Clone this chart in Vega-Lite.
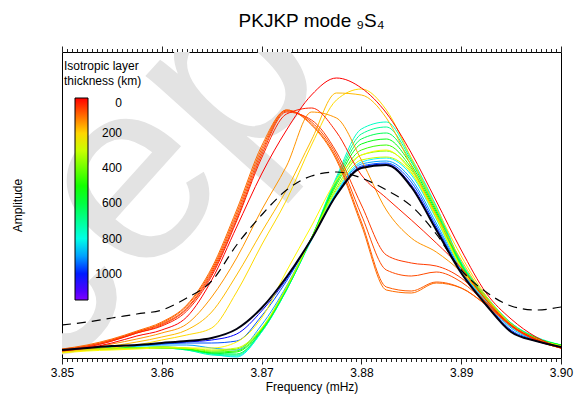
{
  "$schema": "https://vega.github.io/schema/vega-lite/v6.json",
  "autosize": {"type": "none"},
  "width": 499,
  "height": 306,
  "padding": {"left": 62, "top": 52, "right": 19, "bottom": 40},
  "background": "white",
  "title": {"text": "PKJKP mode ₉S₄", "fontSize": 19, "fontWeight": "normal", "font": "Liberation Sans", "color": "black", "anchor": "middle", "frame": "group", "baseline": "alphabetic", "offset": 18, "dy": 18},
  "datasets": {
    "models": [
      {"t":1020,"f":3.85,"a":8},{"t":1020,"f":3.8525,"a":10},{"t":1020,"f":3.855,"a":12},{"t":1020,"f":3.8575,"a":13},{"t":1020,"f":3.86,"a":14},{"t":1020,"f":3.8625,"a":16},{"t":1020,"f":3.865,"a":18},{"t":1020,"f":3.8675,"a":24},{"t":1020,"f":3.87,"a":47},{"t":1020,"f":3.8725,"a":79},{"t":1020,"f":3.875,"a":119},{"t":1020,"f":3.8775,"a":163},{"t":1020,"f":3.88,"a":191},{"t":1020,"f":3.8825,"a":194},{"t":1020,"f":3.885,"a":173},{"t":1020,"f":3.8875,"a":130},{"t":1020,"f":3.89,"a":86},{"t":1020,"f":3.8925,"a":54},{"t":1020,"f":3.895,"a":27},{"t":1020,"f":3.8975,"a":17},{"t":1020,"f":3.9,"a":11},
      {"t":960,"f":3.85,"a":8},{"t":960,"f":3.8525,"a":10},{"t":960,"f":3.855,"a":11},{"t":960,"f":3.8575,"a":12},{"t":960,"f":3.86,"a":14},{"t":960,"f":3.8625,"a":15},{"t":960,"f":3.865,"a":15},{"t":960,"f":3.8675,"a":17},{"t":960,"f":3.87,"a":42},{"t":960,"f":3.8725,"a":77},{"t":960,"f":3.875,"a":120},{"t":960,"f":3.8775,"a":164},{"t":960,"f":3.88,"a":192},{"t":960,"f":3.8825,"a":195},{"t":960,"f":3.885,"a":176},{"t":960,"f":3.8875,"a":132},{"t":960,"f":3.89,"a":87},{"t":960,"f":3.8925,"a":55},{"t":960,"f":3.895,"a":28},{"t":960,"f":3.8975,"a":18},{"t":960,"f":3.9,"a":11},
      {"t":900,"f":3.85,"a":7},{"t":900,"f":3.8525,"a":9},{"t":900,"f":3.855,"a":11},{"t":900,"f":3.8575,"a":12},{"t":900,"f":3.86,"a":13},{"t":900,"f":3.8625,"a":13},{"t":900,"f":3.865,"a":10},{"t":900,"f":3.8675,"a":8},{"t":900,"f":3.87,"a":33},{"t":900,"f":3.8725,"a":72},{"t":900,"f":3.875,"a":120},{"t":900,"f":3.8775,"a":165},{"t":900,"f":3.88,"a":194},{"t":900,"f":3.8825,"a":197},{"t":900,"f":3.885,"a":179},{"t":900,"f":3.8875,"a":135},{"t":900,"f":3.89,"a":88},{"t":900,"f":3.8925,"a":56},{"t":900,"f":3.895,"a":30},{"t":900,"f":3.8975,"a":18},{"t":900,"f":3.9,"a":12},
      {"t":840,"f":3.85,"a":7},{"t":840,"f":3.8525,"a":9},{"t":840,"f":3.855,"a":10},{"t":840,"f":3.8575,"a":11},{"t":840,"f":3.86,"a":11},{"t":840,"f":3.8625,"a":9},{"t":840,"f":3.865,"a":4},{"t":840,"f":3.8675,"a":1},{"t":840,"f":3.87,"a":26},{"t":840,"f":3.8725,"a":68},{"t":840,"f":3.875,"a":118},{"t":840,"f":3.8775,"a":166},{"t":840,"f":3.88,"a":196},{"t":840,"f":3.8825,"a":200},{"t":840,"f":3.885,"a":183},{"t":840,"f":3.8875,"a":139},{"t":840,"f":3.89,"a":89},{"t":840,"f":3.8925,"a":57},{"t":840,"f":3.895,"a":31},{"t":840,"f":3.8975,"a":19},{"t":840,"f":3.9,"a":12},
      {"t":760,"f":3.85,"a":8},{"t":760,"f":3.8525,"a":9},{"t":760,"f":3.855,"a":10},{"t":760,"f":3.8575,"a":10},{"t":760,"f":3.86,"a":10},{"t":760,"f":3.8625,"a":8},{"t":760,"f":3.865,"a":3},{"t":760,"f":3.8675,"a":2},{"t":760,"f":3.87,"a":26},{"t":760,"f":3.8725,"a":68},{"t":760,"f":3.875,"a":120},{"t":760,"f":3.8775,"a":181},{"t":760,"f":3.88,"a":229},{"t":760,"f":3.8825,"a":236},{"t":760,"f":3.885,"a":200},{"t":760,"f":3.8875,"a":152},{"t":760,"f":3.89,"a":96},{"t":760,"f":3.8925,"a":62},{"t":760,"f":3.895,"a":35},{"t":760,"f":3.8975,"a":21},{"t":760,"f":3.9,"a":13},
      {"t":700,"f":3.85,"a":8},{"t":700,"f":3.8525,"a":9},{"t":700,"f":3.855,"a":10},{"t":700,"f":3.8575,"a":10},{"t":700,"f":3.86,"a":10},{"t":700,"f":3.8625,"a":8},{"t":700,"f":3.865,"a":4},{"t":700,"f":3.8675,"a":3},{"t":700,"f":3.87,"a":27},{"t":700,"f":3.8725,"a":68},{"t":700,"f":3.875,"a":120},{"t":700,"f":3.8775,"a":179},{"t":700,"f":3.88,"a":224},{"t":700,"f":3.8825,"a":231},{"t":700,"f":3.885,"a":198},{"t":700,"f":3.8875,"a":150},{"t":700,"f":3.89,"a":95},{"t":700,"f":3.8925,"a":61},{"t":700,"f":3.895,"a":35},{"t":700,"f":3.8975,"a":20},{"t":700,"f":3.9,"a":13},
      {"t":620,"f":3.85,"a":7},{"t":620,"f":3.8525,"a":9},{"t":620,"f":3.855,"a":10},{"t":620,"f":3.8575,"a":10},{"t":620,"f":3.86,"a":10},{"t":620,"f":3.8625,"a":9},{"t":620,"f":3.865,"a":5},{"t":620,"f":3.8675,"a":4},{"t":620,"f":3.87,"a":27},{"t":620,"f":3.8725,"a":69},{"t":620,"f":3.875,"a":120},{"t":620,"f":3.8775,"a":177},{"t":620,"f":3.88,"a":219},{"t":620,"f":3.8825,"a":225},{"t":620,"f":3.885,"a":196},{"t":620,"f":3.8875,"a":148},{"t":620,"f":3.89,"a":94},{"t":620,"f":3.8925,"a":61},{"t":620,"f":3.895,"a":34},{"t":620,"f":3.8975,"a":20},{"t":620,"f":3.9,"a":13},
      {"t":540,"f":3.85,"a":7},{"t":540,"f":3.8525,"a":9},{"t":540,"f":3.855,"a":10},{"t":540,"f":3.8575,"a":10},{"t":540,"f":3.86,"a":10},{"t":540,"f":3.8625,"a":9},{"t":540,"f":3.865,"a":5},{"t":540,"f":3.8675,"a":6},{"t":540,"f":3.87,"a":28},{"t":540,"f":3.8725,"a":69},{"t":540,"f":3.875,"a":120},{"t":540,"f":3.8775,"a":175},{"t":540,"f":3.88,"a":214},{"t":540,"f":3.8825,"a":219},{"t":540,"f":3.885,"a":193},{"t":540,"f":3.8875,"a":146},{"t":540,"f":3.89,"a":93},{"t":540,"f":3.8925,"a":60},{"t":540,"f":3.895,"a":34},{"t":540,"f":3.8975,"a":20},{"t":540,"f":3.9,"a":13},
      {"t":460,"f":3.85,"a":7},{"t":460,"f":3.8525,"a":8},{"t":460,"f":3.855,"a":9},{"t":460,"f":3.8575,"a":10},{"t":460,"f":3.86,"a":11},{"t":460,"f":3.8625,"a":9},{"t":460,"f":3.865,"a":6},{"t":460,"f":3.8675,"a":7},{"t":460,"f":3.87,"a":29},{"t":460,"f":3.8725,"a":70},{"t":460,"f":3.875,"a":120},{"t":460,"f":3.8775,"a":173},{"t":460,"f":3.88,"a":208},{"t":460,"f":3.8825,"a":213},{"t":460,"f":3.885,"a":190},{"t":460,"f":3.8875,"a":144},{"t":460,"f":3.89,"a":92},{"t":460,"f":3.8925,"a":60},{"t":460,"f":3.895,"a":33},{"t":460,"f":3.8975,"a":20},{"t":460,"f":3.9,"a":12},
      {"t":380,"f":3.85,"a":6},{"t":380,"f":3.8525,"a":8},{"t":380,"f":3.855,"a":9},{"t":380,"f":3.8575,"a":10},{"t":380,"f":3.86,"a":11},{"t":380,"f":3.8625,"a":10},{"t":380,"f":3.865,"a":7},{"t":380,"f":3.8675,"a":9},{"t":380,"f":3.87,"a":29},{"t":380,"f":3.8725,"a":70},{"t":380,"f":3.875,"a":120},{"t":380,"f":3.8775,"a":170},{"t":380,"f":3.88,"a":203},{"t":380,"f":3.8825,"a":207},{"t":380,"f":3.885,"a":188},{"t":380,"f":3.8875,"a":142},{"t":380,"f":3.89,"a":91},{"t":380,"f":3.8925,"a":59},{"t":380,"f":3.895,"a":33},{"t":380,"f":3.8975,"a":19},{"t":380,"f":3.9,"a":12},
      {"t":300,"f":3.85,"a":6},{"t":300,"f":3.8525,"a":8},{"t":300,"f":3.855,"a":9},{"t":300,"f":3.8575,"a":10},{"t":300,"f":3.86,"a":11},{"t":300,"f":3.8625,"a":10},{"t":300,"f":3.865,"a":8},{"t":300,"f":3.8675,"a":10},{"t":300,"f":3.87,"a":30},{"t":300,"f":3.8725,"a":71},{"t":300,"f":3.875,"a":120},{"t":300,"f":3.8775,"a":168},{"t":300,"f":3.88,"a":198},{"t":300,"f":3.8825,"a":201},{"t":300,"f":3.885,"a":185},{"t":300,"f":3.8875,"a":140},{"t":300,"f":3.89,"a":90},{"t":300,"f":3.8925,"a":58},{"t":300,"f":3.895,"a":32},{"t":300,"f":3.8975,"a":19},{"t":300,"f":3.9,"a":12},
      {"t":235,"f":3.85,"a":5},{"t":235,"f":3.8525,"a":7},{"t":235,"f":3.855,"a":8},{"t":235,"f":3.8575,"a":9},{"t":235,"f":3.86,"a":10},{"t":235,"f":3.8625,"a":10},{"t":235,"f":3.865,"a":10},{"t":235,"f":3.8675,"a":16},{"t":235,"f":3.87,"a":40},{"t":235,"f":3.8725,"a":87},{"t":235,"f":3.875,"a":132},{"t":235,"f":3.8775,"a":178},{"t":235,"f":3.88,"a":203},{"t":235,"f":3.8825,"a":208},{"t":235,"f":3.885,"a":186},{"t":235,"f":3.8875,"a":141},{"t":235,"f":3.89,"a":90},{"t":235,"f":3.8925,"a":58},{"t":235,"f":3.895,"a":32},{"t":235,"f":3.8975,"a":19},{"t":235,"f":3.9,"a":12},
      {"t":205,"f":3.85,"a":6},{"t":205,"f":3.8525,"a":8},{"t":205,"f":3.855,"a":10},{"t":205,"f":3.8575,"a":13},{"t":205,"f":3.86,"a":18},{"t":205,"f":3.8625,"a":23},{"t":205,"f":3.865,"a":30},{"t":205,"f":3.8675,"a":66},{"t":205,"f":3.87,"a":113},{"t":205,"f":3.8725,"a":158},{"t":205,"f":3.875,"a":213},{"t":205,"f":3.8775,"a":258},{"t":205,"f":3.88,"a":269},{"t":205,"f":3.8825,"a":248},{"t":205,"f":3.885,"a":200},{"t":205,"f":3.8875,"a":150},{"t":205,"f":3.89,"a":102},{"t":205,"f":3.8925,"a":62},{"t":205,"f":3.895,"a":34},{"t":205,"f":3.8975,"a":19},{"t":205,"f":3.9,"a":11},
      {"t":175,"f":3.85,"a":7},{"t":175,"f":3.8525,"a":9},{"t":175,"f":3.855,"a":12},{"t":175,"f":3.8575,"a":16},{"t":175,"f":3.86,"a":21},{"t":175,"f":3.8625,"a":28},{"t":175,"f":3.865,"a":46},{"t":175,"f":3.8675,"a":83},{"t":175,"f":3.87,"a":126},{"t":175,"f":3.8725,"a":168},{"t":175,"f":3.875,"a":218},{"t":175,"f":3.8775,"a":265},{"t":175,"f":3.88,"a":263},{"t":175,"f":3.8825,"a":240},{"t":175,"f":3.885,"a":192},{"t":175,"f":3.8875,"a":143},{"t":175,"f":3.89,"a":98},{"t":175,"f":3.8925,"a":60},{"t":175,"f":3.895,"a":34},{"t":175,"f":3.8975,"a":19},{"t":175,"f":3.9,"a":11},
      {"t":140,"f":3.85,"a":7},{"t":140,"f":3.8525,"a":10},{"t":140,"f":3.855,"a":14},{"t":140,"f":3.8575,"a":19},{"t":140,"f":3.86,"a":25},{"t":140,"f":3.8625,"a":34},{"t":140,"f":3.865,"a":61},{"t":140,"f":3.8675,"a":100},{"t":140,"f":3.87,"a":148},{"t":140,"f":3.8725,"a":192},{"t":140,"f":3.875,"a":246},{"t":140,"f":3.8775,"a":240},{"t":140,"f":3.88,"a":198},{"t":140,"f":3.8825,"a":148},{"t":140,"f":3.885,"a":120},{"t":140,"f":3.8875,"a":106},{"t":140,"f":3.89,"a":86},{"t":140,"f":3.8925,"a":58},{"t":140,"f":3.895,"a":32},{"t":140,"f":3.8975,"a":18},{"t":140,"f":3.9,"a":10},
      {"t":100,"f":3.85,"a":9},{"t":100,"f":3.8525,"a":13},{"t":100,"f":3.855,"a":19},{"t":100,"f":3.8575,"a":27},{"t":100,"f":3.86,"a":36},{"t":100,"f":3.8625,"a":53},{"t":100,"f":3.865,"a":90},{"t":100,"f":3.8675,"a":148},{"t":100,"f":3.87,"a":212},{"t":100,"f":3.8725,"a":248},{"t":100,"f":3.875,"a":233},{"t":100,"f":3.8775,"a":198},{"t":100,"f":3.88,"a":133},{"t":100,"f":3.8825,"a":68},{"t":100,"f":3.885,"a":65},{"t":100,"f":3.8875,"a":75},{"t":100,"f":3.89,"a":70},{"t":100,"f":3.8925,"a":53},{"t":100,"f":3.895,"a":32},{"t":100,"f":3.8975,"a":18},{"t":100,"f":3.9,"a":10},
      {"t":85,"f":3.85,"a":9},{"t":85,"f":3.8525,"a":12},{"t":85,"f":3.855,"a":18},{"t":85,"f":3.8575,"a":26},{"t":85,"f":3.86,"a":35},{"t":85,"f":3.8625,"a":52},{"t":85,"f":3.865,"a":88},{"t":85,"f":3.8675,"a":145},{"t":85,"f":3.87,"a":209},{"t":85,"f":3.8725,"a":248},{"t":85,"f":3.875,"a":234},{"t":85,"f":3.8775,"a":200},{"t":85,"f":3.88,"a":136},{"t":85,"f":3.8825,"a":71},{"t":85,"f":3.885,"a":67},{"t":85,"f":3.8875,"a":76},{"t":85,"f":3.89,"a":70},{"t":85,"f":3.8925,"a":53},{"t":85,"f":3.895,"a":32},{"t":85,"f":3.8975,"a":18},{"t":85,"f":3.9,"a":10},
      {"t":70,"f":3.85,"a":8},{"t":70,"f":3.8525,"a":12},{"t":70,"f":3.855,"a":18},{"t":70,"f":3.8575,"a":26},{"t":70,"f":3.86,"a":34},{"t":70,"f":3.8625,"a":50},{"t":70,"f":3.865,"a":86},{"t":70,"f":3.8675,"a":142},{"t":70,"f":3.87,"a":206},{"t":70,"f":3.8725,"a":247},{"t":70,"f":3.875,"a":236},{"t":70,"f":3.8775,"a":203},{"t":70,"f":3.88,"a":143},{"t":70,"f":3.8825,"a":88},{"t":70,"f":3.885,"a":82},{"t":70,"f":3.8875,"a":86},{"t":70,"f":3.89,"a":76},{"t":70,"f":3.8925,"a":55},{"t":70,"f":3.895,"a":32},{"t":70,"f":3.8975,"a":18},{"t":70,"f":3.9,"a":10},
      {"t":55,"f":3.85,"a":8},{"t":55,"f":3.8525,"a":11},{"t":55,"f":3.855,"a":17},{"t":55,"f":3.8575,"a":25},{"t":55,"f":3.86,"a":33},{"t":55,"f":3.8625,"a":49},{"t":55,"f":3.865,"a":84},{"t":55,"f":3.8675,"a":139},{"t":55,"f":3.87,"a":203},{"t":55,"f":3.8725,"a":246},{"t":55,"f":3.875,"a":238},{"t":55,"f":3.8775,"a":206},{"t":55,"f":3.88,"a":153},{"t":55,"f":3.8825,"a":103},{"t":55,"f":3.885,"a":95},{"t":55,"f":3.8875,"a":92},{"t":55,"f":3.89,"a":80},{"t":55,"f":3.8925,"a":56},{"t":55,"f":3.895,"a":32},{"t":55,"f":3.8975,"a":18},{"t":55,"f":3.9,"a":10},
      {"t":30,"f":3.85,"a":8},{"t":30,"f":3.8525,"a":11},{"t":30,"f":3.855,"a":17},{"t":30,"f":3.8575,"a":25},{"t":30,"f":3.86,"a":32},{"t":30,"f":3.8625,"a":47},{"t":30,"f":3.865,"a":82},{"t":30,"f":3.8675,"a":137},{"t":30,"f":3.87,"a":200},{"t":30,"f":3.8725,"a":244},{"t":30,"f":3.875,"a":250},{"t":30,"f":3.8775,"a":226},{"t":30,"f":3.88,"a":183},{"t":30,"f":3.8825,"a":160},{"t":30,"f":3.885,"a":138},{"t":30,"f":3.8875,"a":115},{"t":30,"f":3.89,"a":90},{"t":30,"f":3.8925,"a":58},{"t":30,"f":3.895,"a":33},{"t":30,"f":3.8975,"a":19},{"t":30,"f":3.9,"a":10},
      {"t":0,"f":3.85,"a":7},{"t":0,"f":3.8525,"a":10},{"t":0,"f":3.855,"a":15},{"t":0,"f":3.8575,"a":22},{"t":0,"f":3.86,"a":28},{"t":0,"f":3.8625,"a":41},{"t":0,"f":3.865,"a":78},{"t":0,"f":3.8675,"a":131},{"t":0,"f":3.87,"a":184},{"t":0,"f":3.8725,"a":228},{"t":0,"f":3.875,"a":263},{"t":0,"f":3.8775,"a":280},{"t":0,"f":3.88,"a":270},{"t":0,"f":3.8825,"a":245},{"t":0,"f":3.885,"a":205},{"t":0,"f":3.8875,"a":157},{"t":0,"f":3.89,"a":108},{"t":0,"f":3.8925,"a":65},{"t":0,"f":3.895,"a":39},{"t":0,"f":3.8975,"a":21},{"t":0,"f":3.9,"a":10}
    ],
    "ref": [
      {"f":3.85,"a":8},{"f":3.8525,"a":10},{"f":3.855,"a":12},{"f":3.8575,"a":13},{"f":3.86,"a":15},{"f":3.8625,"a":17},{"f":3.865,"a":20},{"f":3.8675,"a":29},{"f":3.87,"a":50},{"f":3.8725,"a":81},{"f":3.875,"a":119},{"f":3.8775,"a":163},{"f":3.88,"a":190},{"f":3.8825,"a":193},{"f":3.885,"a":171},{"f":3.8875,"a":128},{"f":3.89,"a":85},{"f":3.8925,"a":53},{"f":3.895,"a":26},{"f":3.8975,"a":17},{"f":3.9,"a":11}
    ],
    "obs": [
      {"f":3.85,"a":33},{"f":3.8525,"a":36},{"f":3.855,"a":40},{"f":3.8575,"a":44},{"f":3.86,"a":48},{"f":3.8625,"a":60},{"f":3.865,"a":77},{"f":3.8675,"a":113},{"f":3.87,"a":143},{"f":3.8725,"a":168},{"f":3.875,"a":182},{"f":3.8775,"a":186},{"f":3.88,"a":180},{"f":3.8825,"a":168},{"f":3.885,"a":152},{"f":3.8875,"a":124},{"f":3.89,"a":88},{"f":3.8925,"a":66},{"f":3.895,"a":52},{"f":3.8975,"a":48},{"f":3.9,"a":51}
    ],
    "mark": [{"label": "Accepted"}]
  },
  "layer": [
    {
      "data": {"name": "mark"},
      "mark": {"type": "text", "angle": -48, "fontSize": 260, "font": "Liberation Sans", "color": "#e3e3e3", "align": "left", "baseline": "alphabetic", "clip": true},
      "encoding": {
        "text": {"field": "label"},
        "x": {"datum": 3.8287, "type": "quantitative", "scale": {"domain": [3.85, 3.9], "nice": false, "zero": false}, "axis": null},
        "y": {"datum": -252, "type": "quantitative", "scale": {"domain": [0, 306], "nice": false}, "axis": {"title": "Amplitude", "ticks": false, "labels": false, "domain": false, "grid": false, "titlePadding": 38}}
      }
    },
    {
      "data": {"name": "models"},
      "mark": {"type": "line", "interpolate": "monotone", "strokeWidth": 1},
      "encoding": {
        "x": {"field": "f", "type": "quantitative", "scale": {"domain": [3.85, 3.9], "nice": false, "zero": false},
          "axis": {"orient": "bottom", "title": "Frequency (mHz)", "tickCount": 100, "labelExpr": "abs(datum.value*100 - round(datum.value*100)) < 0.01 ? format(datum.value, '.2f') : ''", "labelOverlap": false, "labelFlush": false, "tickSize": {"condition": {"test": "abs(datum.value*100 - round(datum.value*100)) < 0.01", "value": 6}, "value": 3.5}, "labelPadding": 3, "titlePadding": 3, "domain": false, "grid": false}},
        "y": {"field": "a", "type": "quantitative", "scale": {"domain": [0, 306], "nice": false}, "axis": {"title": "Amplitude", "ticks": false, "labels": false, "domain": false, "grid": false, "titlePadding": 38}},
        "color": {"field": "t", "type": "quantitative",
          "scale": {"domain": [1150, 1020, 830, 520, 240, 120, 0], "range": ["#7f00ff", "#0000ff", "#00ffff", "#00ff00", "#ffff00", "#ff8000", "#ff0000"], "interpolate": "rgb"},
          "legend": {"orient": "none", "legendX": 2, "legendY": 9, "direction": "vertical", "title": ["Isotropic layer", "thickness (km)"], "titleFontSize": 12, "titleFontWeight": "normal", "titleColor": "black", "titleLineHeight": 15, "titlePadding": 10, "gradientLength": 202, "gradientThickness": 13, "gradientStrokeColor": "black", "gradientStrokeWidth": 1, "values": [0, 200, 400, 600, 800, 1000], "format": "d", "labelAlign": "right", "labelOffset": 34, "labelFontSize": 12, "labelColor": "black", "labelBaseline": "middle", "labelOverlap": false, "padding": 0,
            "encode": {"title": {"update": {"dx": {"value": -11}}}, "labels": {"update": {"align": {"value": "right"}}}}}},
        "detail": {"field": "t", "type": "quantitative"}
      }
    },
    {
      "data": {"name": "ref"},
      "mark": {"type": "line", "interpolate": "monotone", "strokeWidth": 2, "color": "#000010"},
      "encoding": {
        "x": {"field": "f", "type": "quantitative", "scale": {"domain": [3.85, 3.9], "nice": false, "zero": false}, "axis": null},
        "y": {"field": "a", "type": "quantitative", "scale": {"domain": [0, 306], "nice": false}, "axis": {"title": "Amplitude", "ticks": false, "labels": false, "domain": false, "grid": false, "titlePadding": 38}}
      }
    },
    {
      "data": {"name": "obs"},
      "mark": {"type": "line", "interpolate": "monotone", "strokeWidth": 1.2, "color": "black", "strokeDash": [9, 6]},
      "encoding": {
        "x": {"field": "f", "type": "quantitative", "scale": {"domain": [3.85, 3.9], "nice": false, "zero": false},
          "axis": {"orient": "top", "title": null, "labels": false, "tickCount": 100, "tickSize": {"condition": {"test": "abs(datum.value*100 - round(datum.value*100)) < 0.01", "value": 6}, "value": 3.5}, "domain": false, "grid": false}},
        "y": {"field": "a", "type": "quantitative", "scale": {"domain": [0, 306], "nice": false}, "axis": {"title": "Amplitude", "ticks": false, "labels": false, "domain": false, "grid": false, "titlePadding": 38}}
      }
    }
  ],
  "resolve": {"axis": {"x": "independent"}},
  "config": {
    "font": "Liberation Sans",
    "view": {"stroke": "black", "strokeWidth": 1},
    "axis": {"labelFont": "Liberation Sans", "titleFont": "Liberation Sans", "labelFontSize": 12, "titleFontSize": 12, "titleFontWeight": "normal", "labelColor": "black", "titleColor": "black", "tickColor": "#222222", "tickWidth": 1},
    "legend": {"labelFont": "Liberation Sans", "titleFont": "Liberation Sans"}
  }
}
